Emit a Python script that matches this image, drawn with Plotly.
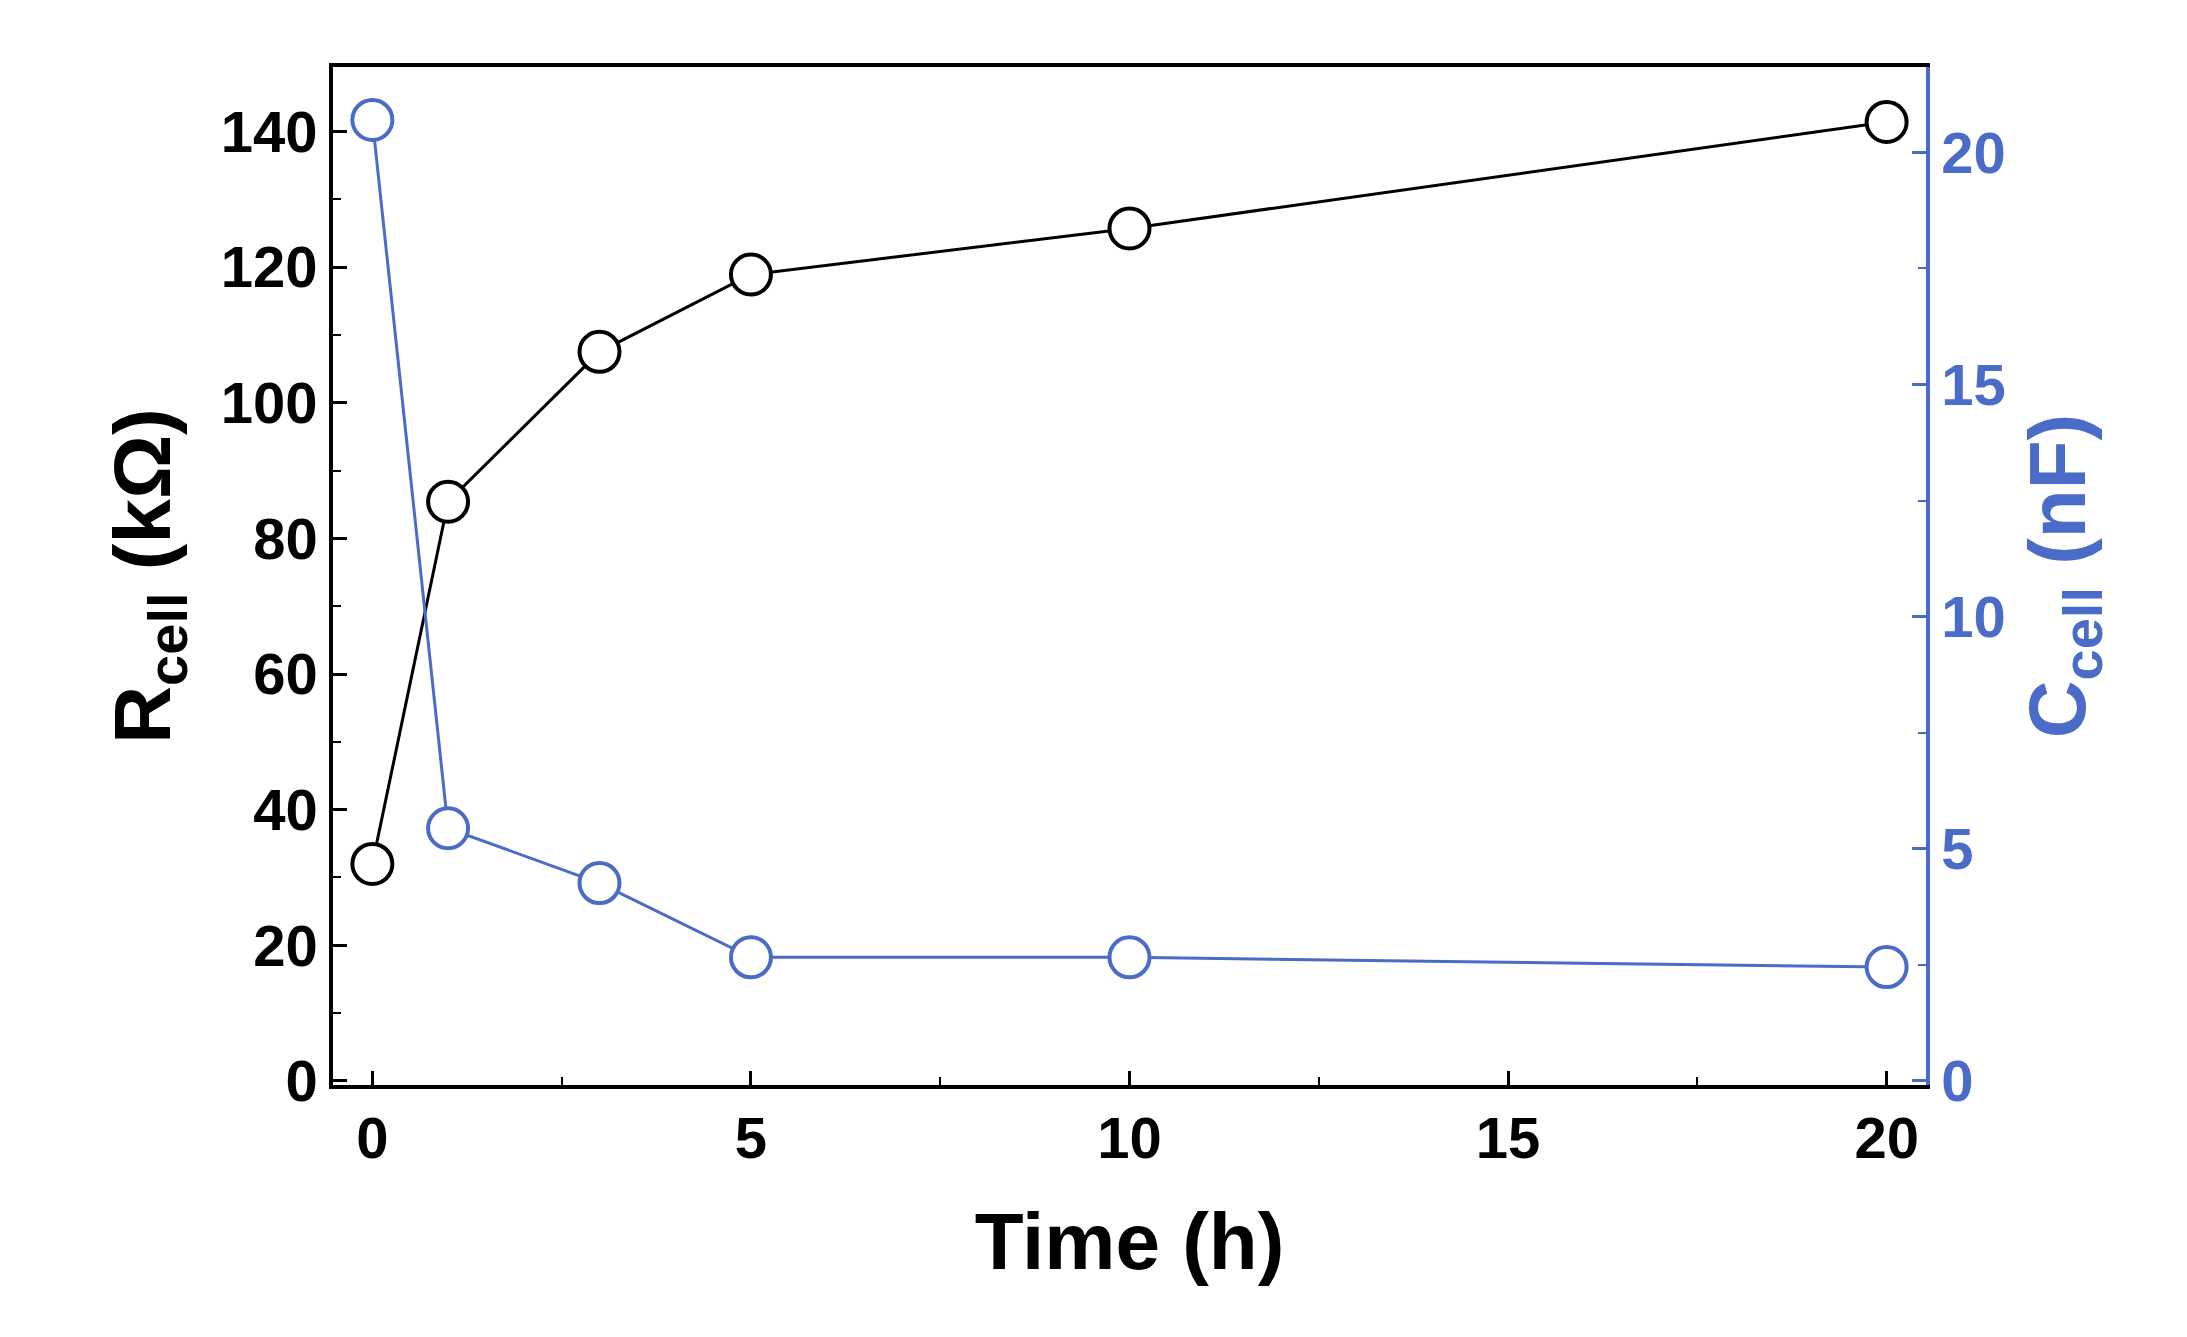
import plotly.graph_objects as go

time_h = [0, 1, 3, 5, 10, 20]
r_cell = [32, 85.4, 107.5, 118.9, 125.7, 141.4]
c_cell = [20.7, 5.44, 4.26, 2.66, 2.66, 2.45]

black = "#000000"
blue = "#4a6cc8"
font = "Liberation Sans"

fig = go.Figure()
fig.add_trace(go.Scatter(x=time_h, y=c_cell, yaxis="y2", mode="lines+markers",
                         line=dict(color=blue, width=3),
                         marker=dict(symbol="circle", size=40, color="white",
                                     line=dict(color=blue, width=4))))
fig.add_trace(go.Scatter(x=time_h, y=r_cell, mode="lines+markers",
                         line=dict(color=black, width=3),
                         marker=dict(symbol="circle", size=40, color="white",
                                     line=dict(color=black, width=4))))

fig.update_layout(
    width=2187, height=1337, showlegend=False,
    plot_bgcolor="white", paper_bgcolor="white",
    margin=dict(l=325, r=269, t=59, b=260),
    font=dict(family=font, size=58, color=black),
    xaxis=dict(range=[-0.52, 20.52], tickvals=[0, 5, 10, 15, 20],
               ticks="inside", ticklen=14, tickwidth=3, tickcolor=black,
               minor=dict(dtick=2.5, ticks="inside", ticklen=8, tickwidth=2, tickcolor=black),
               showline=True, linecolor=black, linewidth=3.5, mirror=True,
               showgrid=False, zeroline=False,
               tickfont=dict(family=font, size=58, weight="bold"),
               title=dict(text="<b>Time (h)</b>", font=dict(family=font, size=80), standoff=45)),
    yaxis=dict(range=[-0.6, 149.5], tickvals=[0, 20, 40, 60, 80, 100, 120, 140],
               ticks="inside", ticklen=14, tickwidth=3, tickcolor=black,
               minor=dict(dtick=10, ticks="inside", ticklen=8, tickwidth=2, tickcolor=black),
               showline=True, linecolor=black, linewidth=3.5,
               showgrid=False, zeroline=False,
               tickfont=dict(family=font, size=58, weight="bold"),
               title=dict(text="<b>R<sub>cell</sub> (kΩ)</b>", font=dict(family=font, size=80), standoff=25)),
    yaxis2=dict(overlaying="y", side="right", range=[-0.09, 21.84],
                tickvals=[0, 5, 10, 15, 20],
                ticks="inside", ticklen=14, tickwidth=3, tickcolor=blue,
                minor=dict(dtick=2.5, ticks="inside", ticklen=8, tickwidth=2, tickcolor=blue),
                showline=True, linecolor=blue, linewidth=3.5,
                showgrid=False, zeroline=False,
                tickfont=dict(family=font, size=58, color=blue, weight="bold"),
                title=dict(text="<b>C<sub>cell</sub> (nF)</b>", font=dict(family=font, size=80, color=blue), standoff=25)),
)
fig.write_html("out.html")
